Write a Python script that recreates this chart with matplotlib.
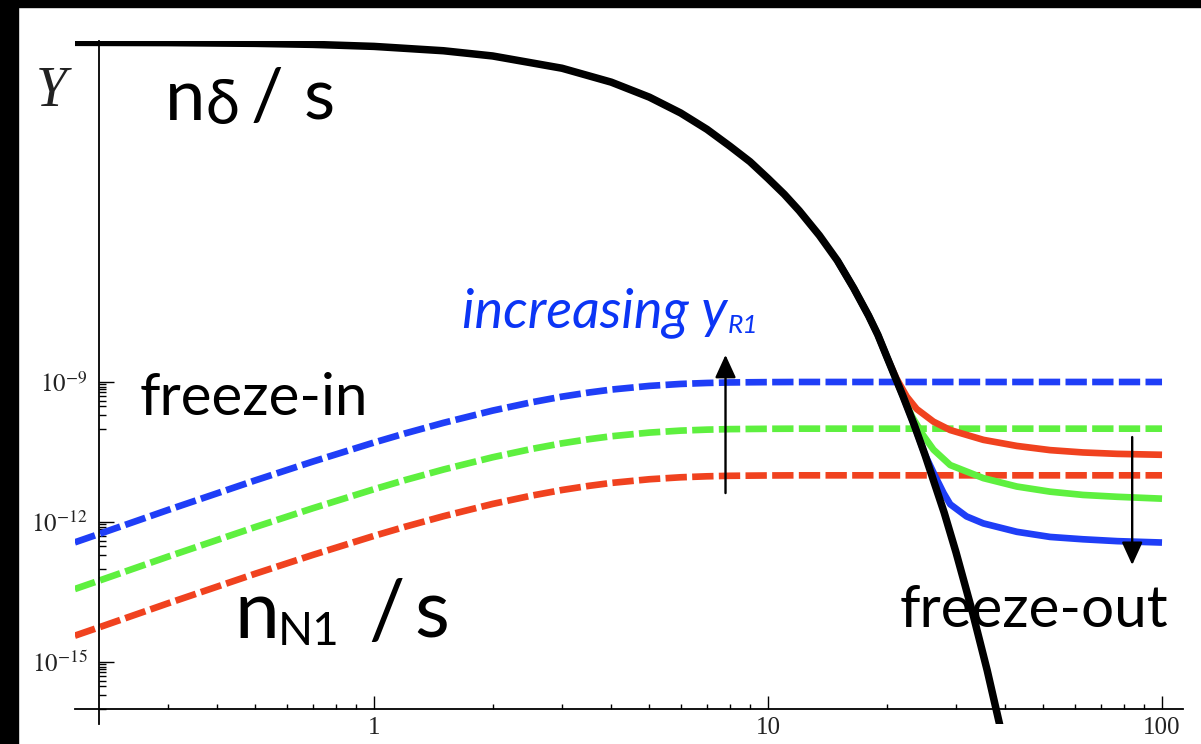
#freeze-in / freeze-out abundance sketch, log-log

import numpy as np
import matplotlib
matplotlib.use('Agg')
import matplotlib.pyplot as plt
from matplotlib.patches import Rectangle
from matplotlib.ticker import NullFormatter

plt.rcParams['mathtext.fontset'] = 'stix'

#equilibrium curve n_delta/s (x = m/T, values as log10 Y)
eq_x = [0.174, 0.3, 0.5, 0.7, 1, 1.5, 2, 3, 4, 5, 6, 7, 8, 9, 10, 11, 12, 13.5, 15, 16.5, 18, 19, 20, 22,
        23.5, 25, 28, 30, 33, 36, 40]
eq_logy = [-1.723, -1.729, -1.745, -1.767, -1.810, -1.903, -2.015, -2.278, -2.576, -2.898, -3.236, -3.587,
           -3.947, -4.28, -4.64, -4.98, -5.33, -5.86, -6.40, -6.99, -7.58, -7.99, -8.45, -9.30,
           -9.92, -10.55, -11.80, -12.65, -13.92, -15.18, -16.86]

#freeze-in curves (dashed), same x grid for all three
fi_x = [0.174, 0.2, 0.3, 0.5, 0.7, 1, 1.2, 1.5, 2, 2.5, 3, 3.5, 4, 5, 6, 7, 8, 10, 12, 100]
fi_blue = [-12.436, -12.260, -11.742, -11.107, -10.704, -10.297, -10.101, -9.876, -9.613, -9.438, -9.314,
           -9.227, -9.163, -9.084, -9.042, -9.021, -9.010, -9.003, -9.0, -9.0]
fi_green = [-13.436, -13.260, -12.742, -12.107, -11.704, -11.297, -11.101, -10.876, -10.613, -10.438, -10.314,
            -10.227, -10.163, -10.084, -10.042, -10.021, -10.010, -10.003, -10.0, -10.0]
fi_red = [-14.436, -14.260, -13.742, -13.107, -12.704, -12.297, -12.101, -11.876, -11.613, -11.438, -11.314,
          -11.227, -11.163, -11.084, -11.042, -11.021, -11.010, -11.003, -11.0, -11.0]

#freeze-out curves (solid)
fo_red_x = [15, 16.5, 18, 19, 20, 21.2, 22.5, 23.85, 26.3, 29, 35.2, 42.8, 52, 63, 77, 100]
fo_red = [-6.40, -6.99, -7.58, -7.99, -8.45, -8.93, -9.315, -9.58, -9.85, -10.03, -10.24, -10.37, -10.46,
          -10.51, -10.54, -10.56]
fo_green_x = [15, 16.5, 18, 19, 20, 22, 23.2, 24.8, 26.3, 29, 35.2, 42.8, 52, 63, 77, 100]
fo_green = [-6.40, -6.99, -7.58, -7.99, -8.45, -9.30, -9.74, -10.15, -10.45, -10.78, -11.06, -11.24, -11.35,
            -11.42, -11.46, -11.50]
fo_blue_x = [15, 16.5, 18, 19, 20, 22, 23.5, 25, 26.5, 27.9, 29, 31.9, 35.2, 42.8, 52, 63, 77, 100]
fo_blue = [-6.40, -6.99, -7.58, -7.99, -8.45, -9.30, -9.92, -10.55, -11.0, -11.38, -11.62, -11.88, -12.03,
           -12.21, -12.32, -12.37, -12.41, -12.44]

x_major = [1, 10, 100]
x_major_labels = ['1', '10', '100']
x_minor = [0.3, 0.4, 0.5, 0.6, 0.7, 0.8, 0.9, 2, 3, 4, 5, 6, 7, 8, 9, 20, 30, 40, 50, 60, 70, 80, 90]
y_major = [1e-9, 1e-12, 1e-15]
y_major_labels = ['$10^{-9}$', '$10^{-12}$', '$10^{-15}$']
y_minor = [k * 10.0**e for e in (-10, -13, -16) for k in range(1, 10)]

BLUE = '#1f3ef7'
GREEN = '#5ef03f'
RED = '#f0421f'
TEXT_BLUE = '#0b35f5'

W, H = 1201, 744
fig = plt.figure(figsize=(W / 100, H / 100), dpi=100)
ax = fig.add_axes([74.6 / W, (H - 724.1) / H, 1108.3 / W, (724.1 - 40.8) / H])
ax.set_xscale('log')
ax.set_yscale('log')

dash = (0, (3.2, 0.8))
for ys, c in [(fi_blue, BLUE), (fi_green, GREEN), (fi_red, RED)]:
    ax.plot(fi_x, 10 ** np.array(ys), color=c, lw=4.8, ls=dash, dash_capstyle='butt')

ax.plot(fo_red_x, 10 ** np.array(fo_red), color=RED, lw=4.8, solid_capstyle='butt')
ax.plot(fo_green_x, 10 ** np.array(fo_green), color=GREEN, lw=4.8, solid_capstyle='butt')
ax.plot(fo_blue_x, 10 ** np.array(fo_blue), color=BLUE, lw=4.8, solid_capstyle='butt')

ax.plot(eq_x, 10 ** np.array(eq_logy), color='k', lw=5.4, solid_capstyle='butt')

ax.set_xlim(10 ** -0.76, 10 ** 2.053)
ax.set_ylim(10 ** -16.33, 10 ** -1.69)

#axes cross at x=0.2, y=1e-16 like the Mathematica frame
ax.spines['top'].set_visible(False)
ax.spines['right'].set_visible(False)
ax.spines['left'].set_position(('data', 0.2))
ax.spines['bottom'].set_position(('data', 1e-16))
ax.spines['left'].set_linewidth(1.3)
ax.spines['bottom'].set_linewidth(1.3)

ax.set_xticks(x_major)
ax.set_xticklabels(x_major_labels)
ax.set_xticks(x_minor, minor=True)
ax.xaxis.set_minor_formatter(NullFormatter())
ax.set_yticks(y_major)
ax.set_yticklabels(y_major_labels)
ax.set_yticks(y_minor, minor=True)
ax.yaxis.set_minor_formatter(NullFormatter())

ax.tick_params(axis='x', which='major', direction='in', length=9.5, width=1, labelsize=18, pad=6,
               labelfontfamily='Liberation Serif', labelcolor='#222222')
ax.tick_params(axis='x', which='minor', direction='in', length=3.6, width=1)
ax.tick_params(axis='y', which='major', direction='in', length=11, width=1, labelsize=18, pad=8,
               labelcolor='#222222')
ax.tick_params(axis='y', which='minor', direction='in', length=5, width=1)

#arrows
ax.annotate('', xy=(7.8, 10 ** -8.42), xytext=(7.8, 10 ** -11.38),
            arrowprops=dict(arrowstyle='-|>,head_length=0.7,head_width=0.32', color='k', lw=1.7,
                            shrinkA=0, shrinkB=0, mutation_scale=20))
ax.annotate('', xy=(84, 10 ** -12.92), xytext=(84, 10 ** -10.18),
            arrowprops=dict(arrowstyle='-|>,head_length=0.7,head_width=0.32', color='k', lw=1.7,
                            shrinkA=0, shrinkB=0, mutation_scale=20))

#labels placed in pixel positions of the original slide
def put(px, py, s, **kw):
    fig.text(px / W, 1 - py / H, s, va='baseline', **kw)

sans = ['Lato', 'Noto Sans', 'DejaVu Sans']
put(36, 106, 'Y', family='Liberation Serif', style='italic', fontsize=40, color='#222222')
put(165, 120, 'n', family=sans, fontsize=52)
put(205, 124, 'δ', family=sans, fontsize=44)
put(251, 120, '/', family=sans, fontsize=52)
put(304, 120, 's', family=sans, fontsize=52)

put(140, 415, 'freeze-in', family=sans, fontsize=42)
put(1168, 627, 'freeze-out', family=sans, fontsize=42, ha='right')

put(462, 327, 'increasing y', family=sans, style='italic', fontsize=39, color=TEXT_BLUE)
put(728, 333, 'R1', family=sans, style='italic', fontsize=19, color=TEXT_BLUE)

put(234, 638, 'n', family=sans, fontsize=58)
put(278, 645, 'N1', family=sans, fontsize=33)
put(368, 638, '/', family=sans, fontsize=58)
put(414, 638, 's', family=sans, fontsize=58)

#black slide border on top and left
fig.patches.append(Rectangle((0, 1 - 7 / H), 1, 7 / H, transform=fig.transFigure, color='k', zorder=10))
fig.patches.append(Rectangle((0, 0), 18 / W, 1, transform=fig.transFigure, color='k', zorder=10))

fig.savefig('out.png', dpi=100)
